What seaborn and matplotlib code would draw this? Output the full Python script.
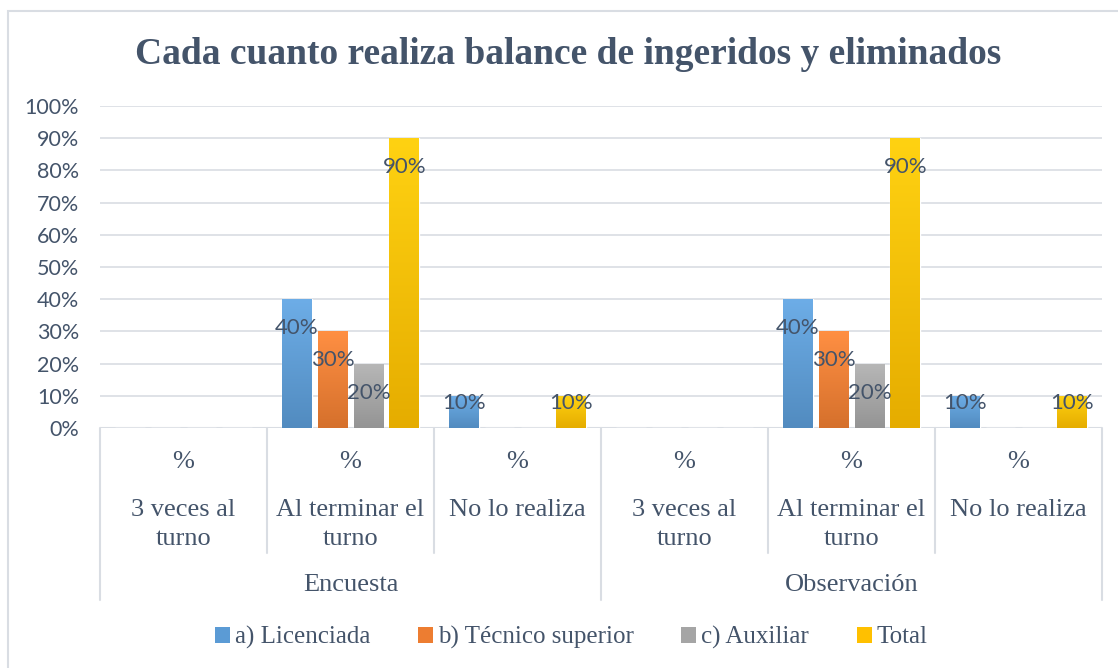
import numpy as np
import pandas as pd
import seaborn as sns
import matplotlib.pyplot as plt
from matplotlib.patches import Patch, Rectangle
from matplotlib.colors import to_rgb

# data
grupos = ["Encuesta", "Observación"]
respuestas = ["3 veces al\nturno", "Al terminar el\nturno", "No lo realiza"]
series = ["a) Licenciada", "b) Técnico superior", "c) Auxiliar", "Total"]
licenciada = [0.0, 0.40, 0.10, 0.0, 0.40, 0.10]
tecnico = [0.0, 0.30, 0.0, 0.0, 0.30, 0.0]
auxiliar = [0.0, 0.20, 0.0, 0.0, 0.20, 0.0]
total = [0.0, 0.90, 0.10, 0.0, 0.90, 0.10]
yticks = [0, 0.1, 0.2, 0.3, 0.4, 0.5, 0.6, 0.7, 0.8, 0.9, 1.0]

colores = ["#5B9BD5", "#ED7D31", "#A5A5A5", "#FFC000"]
texto = "#44546A"
linea = "#D9DDE3"

cats = [g + "|" + r for g in grupos for r in respuestas]
df = pd.DataFrame({
    "cat": cats * 4,
    "serie": np.repeat(series, len(cats)),
    "valor": licenciada + tecnico + auxiliar + total,
})

sns.set_theme(style="white")
plt.rcParams["font.family"] = ["Lato", "DejaVu Sans"]

fig = plt.figure(figsize=(11.18, 6.68), dpi=100)
ax = fig.add_axes([100 / 1118, 1 - 428 / 668, 1002 / 1118, 322 / 668])

sns.barplot(data=df, x="cat", y="valor", hue="serie", order=cats, hue_order=series,
            palette=colores, width=0.862, gap=0.167, errorbar=None, legend=False,
            saturation=1, ax=ax, zorder=3)

# gradient fill on each bar
for p in ax.patches:
    h = p.get_height()
    if h <= 0:
        continue
    c = np.array(to_rgb(p.get_facecolor()))
    top = np.clip(c + 0.07, 0, 1)
    bot = np.clip(c * 0.9, 0, 1)
    t = np.linspace(0, 1, 64)[:, None]
    grad = (top[None, :] * (1 - t) + bot[None, :] * t)[:, None, :]
    x0 = p.get_x()
    im = ax.imshow(grad, extent=[x0, x0 + p.get_width(), 0, h], aspect="auto",
                   origin="upper", zorder=3.5, interpolation="bilinear")
    im.set_clip_path(p)

ax.set_xlim(-0.5, len(cats) - 0.5)
ax.set_ylim(0, 1)
ax.set_yticks(yticks)
ax.set_yticklabels([f"{int(round(v * 100))}%" for v in yticks], fontsize=15.5, color=texto)
ax.tick_params(axis="y", length=0, pad=15)
ax.set_xticks([])
ax.set_xlabel("")
ax.set_ylabel("")
for s in ax.spines.values():
    s.set_visible(False)
ax.grid(axis="y", color=linea, linewidth=1.2, zorder=0)
ax.set_axisbelow(True)
ax.axhline(0, color=linea, linewidth=1.5, zorder=2)

# value labels
for cont in ax.containers:
    for b in cont:
        h = b.get_height()
        if h > 0:
            ax.text(b.get_x() + b.get_width() / 2, max(h - 0.09, 0.078),
                    f"{int(round(h * 100))}%", ha="center", va="center",
                    fontsize=16, color=texto, zorder=5)

# multi-level category axis
tr = ax.get_xaxis_transform()
serif = "Liberation Serif"
for i, c in enumerate(cats):
    ax.text(i, -0.106, "%", transform=tr, ha="center", va="center",
            fontsize=19, color=texto, family=serif)
    ax.text(i, -0.222, c.split("|")[1], transform=tr, ha="center", va="top",
            fontsize=19, color=texto, family=serif, linespacing=1.4)
for i in range(1, len(cats)):
    if i % len(respuestas) != 0:
        ax.plot([i - 0.5, i - 0.5], [0, -0.388], transform=tr, color=linea,
                linewidth=1.5, clip_on=False)
for k in range(len(grupos) + 1):
    xg = k * len(respuestas) - 0.5
    ax.plot([xg, xg], [0, -0.534], transform=tr, color=linea, linewidth=1.5, clip_on=False)
for k, g in enumerate(grupos):
    ax.text(k * len(respuestas) + (len(respuestas) - 1) / 2, -0.488, g, transform=tr,
            ha="center", va="center", fontsize=19, color=texto, family=serif)

fig.text(0.508, 0.918, "Cada cuanto realiza balance de ingeridos y eliminados",
         ha="center", va="center", fontsize=27, fontweight="bold", color=texto, family=serif)

handles = [Patch(facecolor=col, edgecolor="none") for col in colores]
fig.legend(handles, series, loc="center", bbox_to_anchor=(0.511, 0.046), ncol=4,
           frameon=False, handlelength=0.6, handleheight=0.6, handletextpad=0.2,
           columnspacing=1.9, prop={"family": serif, "size": 18}, labelcolor=texto)

fig.patches.append(Rectangle((8 / 1118, -0.1), 1.2, 1 - 11 / 668 + 0.1,
                             transform=fig.transFigure, fill=False,
                             edgecolor=linea, linewidth=1.5))

fig.savefig("out.png", dpi=100)
